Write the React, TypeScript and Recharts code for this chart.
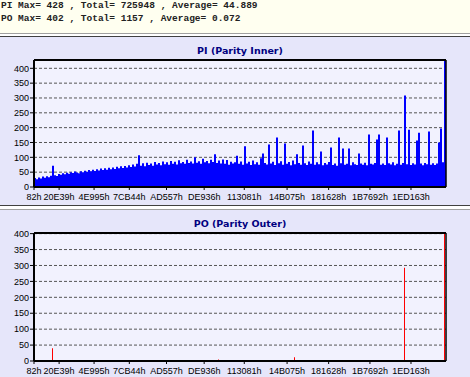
import React from 'react';
import { BarChart, Bar, XAxis, YAxis, CartesianGrid, ReferenceLine } from 'recharts';

const START_SECTOR = 0x82;
const END_SECTOR = 2207214;
const BIN_COUNT = 206;

const xTickSectors = [0x82, 0x20e39, 0x4e995, 0x7cb44, 0xad557, 0xde936, 0x113081, 0x14b075, 0x181628, 0x1b7692, 0x1ed163];
const yTicks = [0, 50, 100, 150, 200, 250, 300, 350, 400];

const headerLines = [
  'PI Max= 428 , Total= 725948 , Average= 44.889',
  'PO Max= 402 , Total= 1157 , Average= 0.072',
];

const PI_MAX = 428;
const PO_MAX = 402;

const piValues = [
  30, 26, 32, 29, 35, 31, 36, 33,
  38, 72, 40, 37, 44, 41, 46,
  43, 48, 45, 50, 47, 52, 49, 46, 53, 50,
  55, 51, 57, 53, 58, 54, 60, 56, 62, 57,
  63, 58, 65, 60, 66, 61, 68, 63, 70, 64,
  71, 66, 73, 67, 76, 69, 78, 107, 72, 80,
  70, 82, 74, 79, 72, 84, 76, 81, 73, 86,
  77, 83, 75, 88, 78, 85, 76, 90, 80, 84,
  78, 92, 81, 86, 79, 100, 82, 87, 78, 95,
  83, 88, 80, 92, 84, 110, 81, 89, 79, 93,
  78, 91, 75, 85, 79, 83, 105, 78, 86, 75,
  137, 79, 85, 74, 89, 77, 83, 75, 97, 113,
  81, 76, 143, 79, 85, 74, 167, 80, 87, 75,
  147, 78, 84, 73, 89, 77, 110, 81, 75, 140,
  80, 74, 86, 78, 190, 75, 83, 77, 120, 73,
  81, 76, 84, 133, 74, 79, 72, 167, 80, 130,
  75, 78, 130, 73, 83, 77, 74, 113, 79, 75,
  82, 73, 177, 78, 76, 81, 160, 177, 75, 79,
  74, 167, 80, 76, 83, 73, 78, 190, 75, 81,
  308, 77, 193, 74, 80, 76, 157, 183, 79, 73,
  81, 77, 187, 75, 80, 74, 79, 150, 197, 83, 428,
];

const poBins = [9, 92, 130, 185, 205];
const poValues = [40, 5, 12, 293, 402];

const binWidth = (END_SECTOR - START_SECTOR) / BIN_COUNT;
const data = piValues.map((v, i) => ({ sector: START_SECTOR + (i + 0.5) * binWidth, pi: v, po: 0 }));
poBins.forEach((b, k) => {
  data[b].po = poValues[k];
});

const hexLabel = (s: number) => s.toString(16).toUpperCase() + 'h';

const LAVENDER = '#E6E6FA';
const PLOT_BG = '#F2F2FE';
const tickStyle = { fontFamily: '"Liberation Sans", Arial, sans-serif', fontSize: 9, fill: '#000' };

function Panel(props: { title: string; dataKey: string; color: string; max: number; top: number; height: number; xAxisHeight: number; barSize?: number }) {
  const { title, dataKey, color, max, top, height, xAxisHeight, barSize } = props;
  return (
    <div style={{ position: 'absolute', left: 0, top, width: 470, height }}>
      <div
        style={{
          position: 'absolute',
          left: 34,
          width: 412,
          top: 8,
          textAlign: 'center',
          fontFamily: '"DejaVu Sans", Verdana, sans-serif',
          fontWeight: 'bold',
          fontSize: 9.5,
          color: '#000080',
          lineHeight: '12px',
        }}
      >
        {title}
      </div>
      <BarChart
        width={470}
        height={height}
        data={data}
        margin={{ top: 23, right: 0, bottom: 0, left: 0 }}
        barCategoryGap={0}
        barGap={0}
      >
        <CartesianGrid fill={PLOT_BG} vertical={false} stroke="#555" strokeDasharray="3 2" />
        <XAxis
          dataKey="sector"
          type="number"
          domain={[START_SECTOR, END_SECTOR]}
          ticks={xTickSectors}
          interval={0}
          tickFormatter={hexLabel}
          height={xAxisHeight}
          tickSize={3}
          tickMargin={4}
          tick={tickStyle}
          axisLine={{ stroke: '#000', strokeWidth: 2 }}
          tickLine={{ stroke: '#000' }}
        />
        <YAxis
          domain={[0, max]}
          ticks={yTicks}
          interval={0}
          width={34}
          tickSize={4}
          tickMargin={1}
          tick={tickStyle}
          axisLine={{ stroke: '#000', strokeWidth: 2 }}
          tickLine={{ stroke: '#000' }}
        />
        <YAxis
          yAxisId="r"
          orientation="right"
          domain={[0, max]}
          ticks={yTicks}
          interval={0}
          width={24}
          tickSize={4}
          tickMargin={1}
          tick={tickStyle}
          axisLine={{ stroke: '#000', strokeWidth: 1.5 }}
          tickLine={{ stroke: '#000' }}
        />
        <ReferenceLine y={max} stroke="#000" strokeWidth={2} />
        <Bar dataKey={dataKey} fill={color} isAnimationActive={false} barSize={barSize} />
      </BarChart>
    </div>
  );
}

export default function App() {
  return (
    <div style={{ position: 'absolute', left: 0, top: 0, width: 470, height: 377, overflow: 'hidden', background: LAVENDER }}>
      <div style={{ position: 'absolute', left: 0, top: 0, width: 470, height: 33, background: '#FFFFF0' }}>
        {headerLines.map((t, i) => (
          <div
            key={i}
            style={{
              position: 'absolute',
              left: 1,
              top: 1 + i * 12.5,
              fontFamily: '"Liberation Mono", "Courier New", monospace',
              fontSize: 9.5,
              fontWeight: 'bold',
              color: '#222',
              whiteSpace: 'pre',
              lineHeight: '10px',
            }}
          >
            {t}
          </div>
        ))}
      </div>
      <div style={{ position: 'absolute', left: 0, top: 33, width: 470, height: 1, background: '#A0A0A0' }} />
      <div style={{ position: 'absolute', left: 0, top: 34, width: 470, height: 2, background: '#FFFFFF' }} />
      <div style={{ position: 'absolute', left: 0, top: 36, width: 470, height: 1, background: '#404040' }} />
      <Panel title="PI (Parity Inner)" dataKey="pi" color="#0000FF" max={PI_MAX} top={37} height={168} xAxisHeight={18} />
      <div style={{ position: 'absolute', left: 0, top: 205, width: 470, height: 1, background: '#404040' }} />
      <div style={{ position: 'absolute', left: 0, top: 206, width: 470, height: 3, background: '#FFFFFF' }} />
      <div style={{ position: 'absolute', left: 0, top: 209, width: 470, height: 1, background: '#A0A0A0' }} />
      <Panel title="PO (Parity Outer)" dataKey="po" color="#FF0000" max={PO_MAX} top={210} height={167} xAxisHeight={16} barSize={1} />
    </div>
  );
}
